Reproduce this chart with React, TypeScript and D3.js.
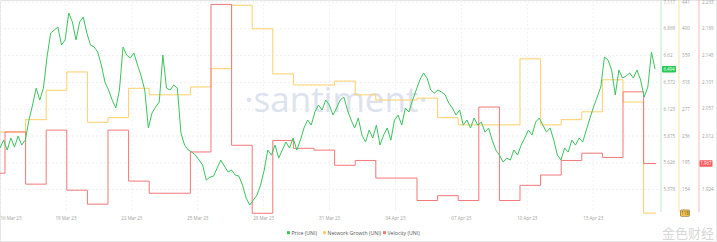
import React from "react";
import * as d3 from "d3";

const W = 717;
const H = 242;

// ---------- data ----------
const priceStart = "2023-03-15T18:10:00Z";
const priceStepMinutes = 253;
const priceValues = [
  5.763, 5.837, 5.745, 5.856, 5.772, 5.874, 5.791, 5.837, 6.023, 6.162,
  6.319, 6.208, 6.319, 6.607, 6.829, 6.857, 6.885, 6.718, 6.765, 7.015,
  6.931, 6.765, 6.931, 6.978, 6.829, 6.718, 6.7, 6.653, 6.533, 6.375,
  6.301, 6.208, 6.134, 6.301, 6.7, 6.625, 6.598, 6.644, 6.533, 6.431,
  6.301, 5.949, 6.088, 6.143, 6.19, 6.625, 6.319, 6.301, 6.347, 6.319,
  5.902, 5.791, 5.745, 5.726, 5.698, 5.652, 5.605, 5.466, 5.494, 5.503,
  5.578, 5.652, 5.596, 5.541, 5.559, 5.513, 5.503, 5.42, 5.3, 5.235,
  5.281, 5.327, 5.42, 5.559, 5.745, 5.698, 5.791, 5.67, 5.745, 5.819,
  5.763, 5.856, 5.745, 5.837, 5.949, 6.023, 5.976, 6.097, 6.162, 6.116,
  6.208, 6.162, 6.069, 6.134, 6.208, 6.236, 6.116, 6.023, 5.949, 6.041,
  5.884, 5.819, 5.93, 5.856, 5.976, 5.791, 5.884, 5.949, 5.837, 6.023,
  6.069, 5.976, 6.134, 6.097, 6.208, 6.301, 6.394, 6.459, 6.412, 6.301,
  6.273, 6.301, 6.282, 6.255, 6.18, 6.134, 6.069, 6.116, 5.976, 6.023,
  5.949, 6.041, 5.976, 6.004, 5.911, 5.949, 5.837, 5.745, 5.698, 5.633,
  5.67, 5.652, 5.745, 5.698, 5.791, 5.856, 5.93, 5.884, 6.004, 6.041,
  5.976, 5.911, 5.949, 5.837, 5.698, 5.652, 5.763, 5.726, 5.837, 5.791,
  5.856, 5.819, 5.93, 6.041, 6.143, 6.236, 6.329, 6.607, 6.579, 6.486,
  6.255, 6.486, 6.412, 6.431, 6.459, 6.412, 6.486, 6.394, 6.236, 6.329,
  6.653, 6.494,
];

const dayStart = "2023-03-15T00:00:00Z";
const networkGrowth = [
  242, 242, 261, 306, 334, 257, 264, 309, 299, 299, 311, 339, 436, 400, 331,
  314, 314, 320, 299, 291, 291, 294, 264, 253, 253, 253, 354, 253, 261, 273,
  322, 288, 118,
];
const velocity = [
  1.951, 2.019, 1.933, 2.022, 1.923, 1.9, 2.022, 1.938, 1.918, 1.918, 1.986,
  2.229, 1.997, 1.885, 2.005, 1.992, 1.989, 1.964, 1.972, 1.943, 1.943, 1.906,
  1.914, 1.906, 2.06, 1.906, 1.931, 1.948, 1.972, 1.984, 1.977, 2.085, 1.967,
];

const priceTicks = [7.117, 6.869, 6.62, 6.372, 6.123, 5.875, 5.626, 5.378];
const networkTicks = [441, 400, 359, 318, 277, 236, 195, 154];
const velocityTicks = [2.233, 2.189, 2.145, 2.101, 2.057, 2.012, 1.968, 1.924];

const xTickTimes = [
  "2023-03-15T18:17:00Z",
  "2023-03-18T23:04:00Z",
  "2023-03-22T03:50:00Z",
  "2023-03-25T08:37:00Z",
  "2023-03-28T13:23:00Z",
  "2023-03-31T18:10:00Z",
  "2023-04-03T22:57:00Z",
  "2023-04-07T03:43:00Z",
  "2023-04-10T08:30:00Z",
  "2023-04-13T13:16:00Z",
];
const xTickLabels = [
  "16 Mar 23",
  "19 Mar 23",
  "22 Mar 23",
  "25 Mar 23",
  "28 Mar 23",
  "31 Mar 23",
  "04 Apr 23",
  "07 Apr 23",
  "10 Apr 23",
  "13 Apr 23",
];

const legendLabels = ["Price (UNI)", "Network Growth (UNI)", "Velocity (UNI)"];

// ---------- styles ----------
const GREEN = "#3cc35e";
const YELLOW = "#ffcf66";
const RED = "#f47777";
const FONT = "'Open Sans', 'DejaVu Sans', sans-serif";

export default function App() {
  const domainStart = new Date("2023-03-15T18:10:30Z");
  const domainEnd = new Date("2023-04-16T14:27:00Z");
  const plotLeft = 0;
  const plotRight = 656;
  const yTop = 2;
  const yBottom = 189.6;

  const x = d3.scaleUtc().domain([domainStart, domainEnd]).range([plotLeft, plotRight]);
  const yPrice = d3.scaleLinear().domain([priceTicks[priceTicks.length - 1], priceTicks[0]]).range([yBottom, yTop]);
  const yNet = d3.scaleLinear().domain([networkTicks[networkTicks.length - 1], networkTicks[0]]).range([yBottom, yTop]);
  const yVel = d3.scaleLinear().domain([velocityTicks[velocityTicks.length - 1], velocityTicks[0]]).range([yBottom, yTop]);

  const pStart = new Date(priceStart).getTime();
  const priceData = priceValues.map((v, i) => ({ t: new Date(pStart + i * priceStepMinutes * 60000), v }));

  const dStart = new Date(dayStart);
  const stepData = (vals: number[]) => {
    const pts = vals.map((v, i) => ({ t: d3.utcDay.offset(dStart, i), v }));
    pts.push({ t: domainEnd, v: vals[vals.length - 1] });
    return pts;
  };
  const netData = stepData(networkGrowth);
  const velData = stepData(velocity);

  const priceLine = d3
    .line<{ t: Date; v: number }>()
    .x((d) => x(d.t))
    .y((d) => yPrice(d.v));
  const netLine = d3
    .line<{ t: Date; v: number }>()
    .curve(d3.curveStepAfter)
    .x((d) => x(d.t))
    .y((d) => yNet(d.v));
  const velLine = d3
    .line<{ t: Date; v: number }>()
    .curve(d3.curveStepAfter)
    .x((d) => x(d.t))
    .y((d) => yVel(d.v));

  const axisPriceX = 661;
  const axisNetX = 679;
  const axisVelX = 699;
  const axisBottom = 212;

  const lastPrice = priceValues[priceValues.length - 1];
  const lastNet = networkGrowth[networkGrowth.length - 1];
  const lastVel = velocity[velocity.length - 1];

  const badgeGap = 6;
  const showTick = (ty: number, by: number) => Math.abs(ty - by) > badgeGap;

  const legendX = [287, 323, 383];
  const legendColors = [GREEN, YELLOW, RED];

  return (
    <svg
      width={W}
      height={H}
      viewBox={`0 0 ${W} ${H}`}
      style={{ position: "absolute", left: 0, top: 0, background: "#fff" }}
      fontFamily={FONT}
    >
      <defs>
        <clipPath id="plotClip">
          <rect x={plotLeft} y={0} width={plotRight - plotLeft} height={216} />
        </clipPath>
      </defs>
      <rect x={0.5} y={0.5} width={W - 1} height={H - 1} fill="#fff" stroke="#e6e6e6" />

      {/* horizontal grid */}
      {priceTicks.map((t, i) => (
        <line
          key={"hg" + i}
          x1={plotLeft}
          x2={axisPriceX}
          y1={yPrice(t)}
          y2={yPrice(t)}
          stroke="#efefef"
          strokeDasharray="2,2"
        />
      ))}
      {/* vertical grid */}
      {xTickTimes.map((s, i) => (
        <line
          key={"vg" + i}
          x1={x(new Date(s))}
          x2={x(new Date(s))}
          y1={0}
          y2={axisBottom}
          stroke="#f1f1f1"
          strokeDasharray="2,2"
        />
      ))}

      {/* watermark */}
      <text
        x={336}
        y={112}
        textAnchor="middle"
        fontSize={35}
        fill="#dde2ef"
        fontFamily="'Open Sans', sans-serif"
        fontWeight={400}
      >
        ·santiment·
      </text>

      <g clipPath="url(#plotClip)">
        <path d={netLine(netData) || ""} fill="none" stroke={YELLOW} strokeWidth={1} />
        <path d={velLine(velData) || ""} fill="none" stroke={RED} strokeWidth={1} />
        <path d={priceLine(priceData) || ""} fill="none" stroke={GREEN} strokeWidth={1} />
      </g>

      {/* right axes */}
      <line x1={axisPriceX} x2={axisPriceX} y1={0} y2={axisBottom} stroke="#bfe9cb" />
      <line x1={axisNetX} x2={axisNetX} y1={0} y2={axisBottom} stroke="#fbe3a8" />
      <line x1={axisVelX} x2={axisVelX} y1={0} y2={axisBottom} stroke="#f6b8b8" />

      {priceTicks.map((t, i) =>
        showTick(yPrice(t), yPrice(lastPrice)) ? (
          <text key={"pt" + i} x={axisPriceX + 2.5} y={yPrice(t)} dy="0.35em" fontSize={4.6} fill="#a0a0a0">
            {String(t)}
          </text>
        ) : null
      )}
      {networkTicks.map((t, i) =>
        showTick(yNet(t), yNet(lastNet)) ? (
          <text key={"nt" + i} x={axisNetX + 3} y={yNet(t)} dy="0.35em" fontSize={4.6} fill="#a0a0a0">
            {String(t)}
          </text>
        ) : null
      )}
      {velocityTicks.map((t, i) =>
        showTick(yVel(t), yVel(lastVel)) ? (
          <text key={"vt" + i} x={axisVelX + 3} y={yVel(t)} dy="0.35em" fontSize={4.6} fill="#a0a0a0">
            {String(t)}
          </text>
        ) : null
      )}

      {/* current value badges */}
      <g>
        <rect x={axisPriceX + 1} y={yPrice(lastPrice) - 3.2} width={14} height={6.4} rx={0.8} fill="#26c953" />
        <text x={axisPriceX + 8} y={yPrice(lastPrice)} dy="0.35em" textAnchor="middle" fontSize={4.4} fill="#fff">
          {lastPrice.toFixed(3)}
        </text>
      </g>
      <g>
        <rect x={axisNetX + 1.5} y={yNet(lastNet) - 3.2} width={9} height={6.4} rx={0.8} fill="#ffcb47" stroke="#6b5a2a" strokeWidth={0.6} />
        <text x={axisNetX + 6} y={yNet(lastNet)} dy="0.35em" textAnchor="middle" fontSize={4.4} fill="#333">
          {String(lastNet)}
        </text>
      </g>
      <g>
        <rect x={axisVelX + 0.5} y={yVel(lastVel) - 3.2} width={13} height={6.4} rx={0.8} fill="#f25c5c" />
        <text x={axisVelX + 7} y={yVel(lastVel)} dy="0.35em" textAnchor="middle" fontSize={4.4} fill="#fff">
          {lastVel.toFixed(3)}
        </text>
      </g>

      {/* x axis labels */}
      {xTickTimes.map((s, i) => {
        const px = x(new Date(s));
        return (
          <text
            key={"xt" + i}
            x={Math.max(px, 11)}
            y={219.5}
            textAnchor="middle"
            fontSize={4.5}
            fill="#a0a0a0"
          >
            {xTickLabels[i]}
          </text>
        );
      })}

      {/* legend */}
      {legendLabels.map((l, i) => (
        <g key={"lg" + i}>
          <rect x={legendX[i]} y={231.2} width={3} height={3} fill={legendColors[i]} />
          <text x={legendX[i] + 4.5} y={232.8} dy="0.35em" fontSize={5.2} fill="#555">
            {l}
          </text>
        </g>
      ))}

      {/* corner watermark */}
      <text x={714} y={238} textAnchor="end" fontSize={13} fill="#b8b8b8" opacity={0.55} fontFamily="'Noto Sans CJK SC', sans-serif">
        金色财经
      </text>
    </svg>
  );
}
